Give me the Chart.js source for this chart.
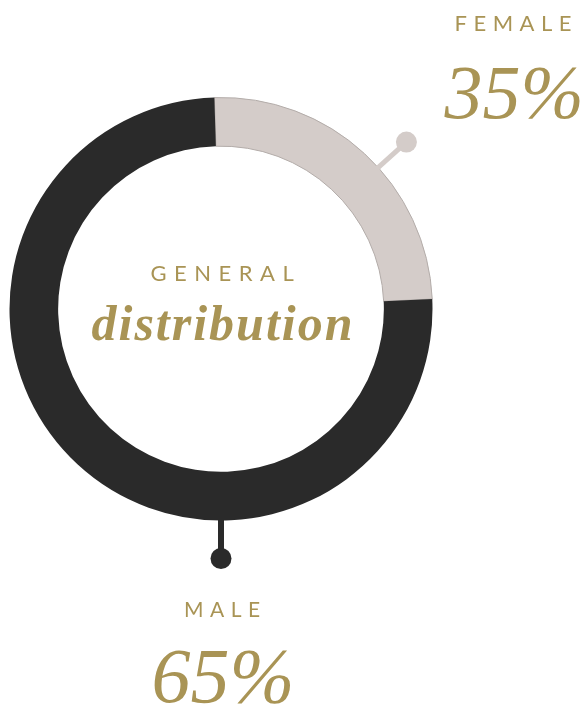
<!DOCTYPE html>
<html>
<head>
<meta charset="utf-8">
<script src="https://cdn.jsdelivr.net/npm/chart.js@4.4.1/dist/chart.umd.min.js"></script>
<style>
  html, body { margin: 0; padding: 0; background: #fff; }
  #wrap { position: relative; width: 587px; height: 706px; overflow: hidden; }
  #chart { position: absolute; left: 0; top: 0; }
  .txt { position: absolute; white-space: nowrap; line-height: 1; color: #a99455; }
  .caps { font-family: Lato, sans-serif; }
  .num { font-family: "Liberation Serif", serif; font-style: italic; }
  .word { font-family: "Liberation Serif", serif; font-style: italic; font-weight: bold; }
</style>
</head>
<body>
<div id="wrap">
  <canvas id="chart" width="587" height="706"></canvas>
</div>
<script>
// data
var categories = ['FEMALE', 'MALE']
var shareLabels = ['35%', '65%']
var arcValues = [24.75, 75.25]        // arc extent as drawn in the picture
var arcColors = ['#d4ccc9', '#2a2a2a']
var centerTitle = 'GENERAL'
var centerWord = 'distribution'

const chartElm = document.getElementById('chart')

// little pin (line + dot) sticking out of each slice
const pins = {
    id: 'pins',
    afterDatasetsDraw(chart) {
        const arc = chart.getDatasetMeta(0).data[0]
        const ctx = chart.ctx
        const cx = arc.x, cy = arc.y, r = arc.outerRadius
        const pinAngles = [48, 180]
        const pinWidths = [5, 6]
        ctx.save()
        pinAngles.forEach((deg, i) => {
            const a = (deg - 90) * Math.PI / 180
            const x0 = cx + Math.cos(a) * (r - 2), y0 = cy + Math.sin(a) * (r - 2)
            const x1 = cx + Math.cos(a) * (r + 38), y1 = cy + Math.sin(a) * (r + 38)
            ctx.strokeStyle = arcColors[i]
            ctx.fillStyle = arcColors[i]
            ctx.lineWidth = pinWidths[i]
            ctx.beginPath()
            ctx.moveTo(x0, y0)
            ctx.lineTo(x1, y1)
            ctx.stroke()
            ctx.beginPath()
            ctx.arc(x1, y1, 10.5, 0, Math.PI * 2)
            ctx.fill()
        })
        ctx.restore()
    }
}

new Chart(chartElm, {
    type: 'doughnut',
    data: {
        labels: categories,
        datasets: [{
            data: arcValues,
            backgroundColor: arcColors,
            borderWidth: [1, 0],
            borderColor: ['#b3aca9', '#2a2a2a'],
            borderJoinStyle: 'miter',
        }]
    },
    options: {
        responsive: false,
        animation: false,
        cutout: '77%',
        rotation: -1.8,
        layout: { padding: { left: 9, right: 154, top: 97, bottom: 185 } },
        plugins: {
            legend: { display: false },
            tooltip: { enabled: false }
        }
    },
    plugins: [pins]
});

// text overlays, placed by baseline
function placeText(text, cls, cx, baseline, size, spacing, ratio) {
    const el = document.createElement('div')
    el.className = 'txt ' + cls
    el.textContent = text
    el.style.fontSize = size + 'px'
    el.style.letterSpacing = spacing + 'px'
    el.style.paddingLeft = spacing + 'px'
    document.getElementById('wrap').appendChild(el)
    el.style.left = (cx - el.offsetWidth / 2) + 'px'
    el.style.top = (baseline - size * ratio) + 'px'
}

placeText(categories[0], 'caps', 513, 32, 22, 6.5, 0.887)
placeText(shareLabels[0], 'num', 514, 118, 76, 0, 0.8375)
placeText(centerTitle, 'caps', 222, 282, 22, 7.5, 0.887)
placeText(centerWord, 'word', 222, 340, 50, 2, 0.8375)
placeText(categories[1], 'caps', 222, 617, 21, 6.5, 0.887)
placeText(shareLabels[1], 'num', 223, 702, 78, 0, 0.8375)
</script>
</body>
</html>
